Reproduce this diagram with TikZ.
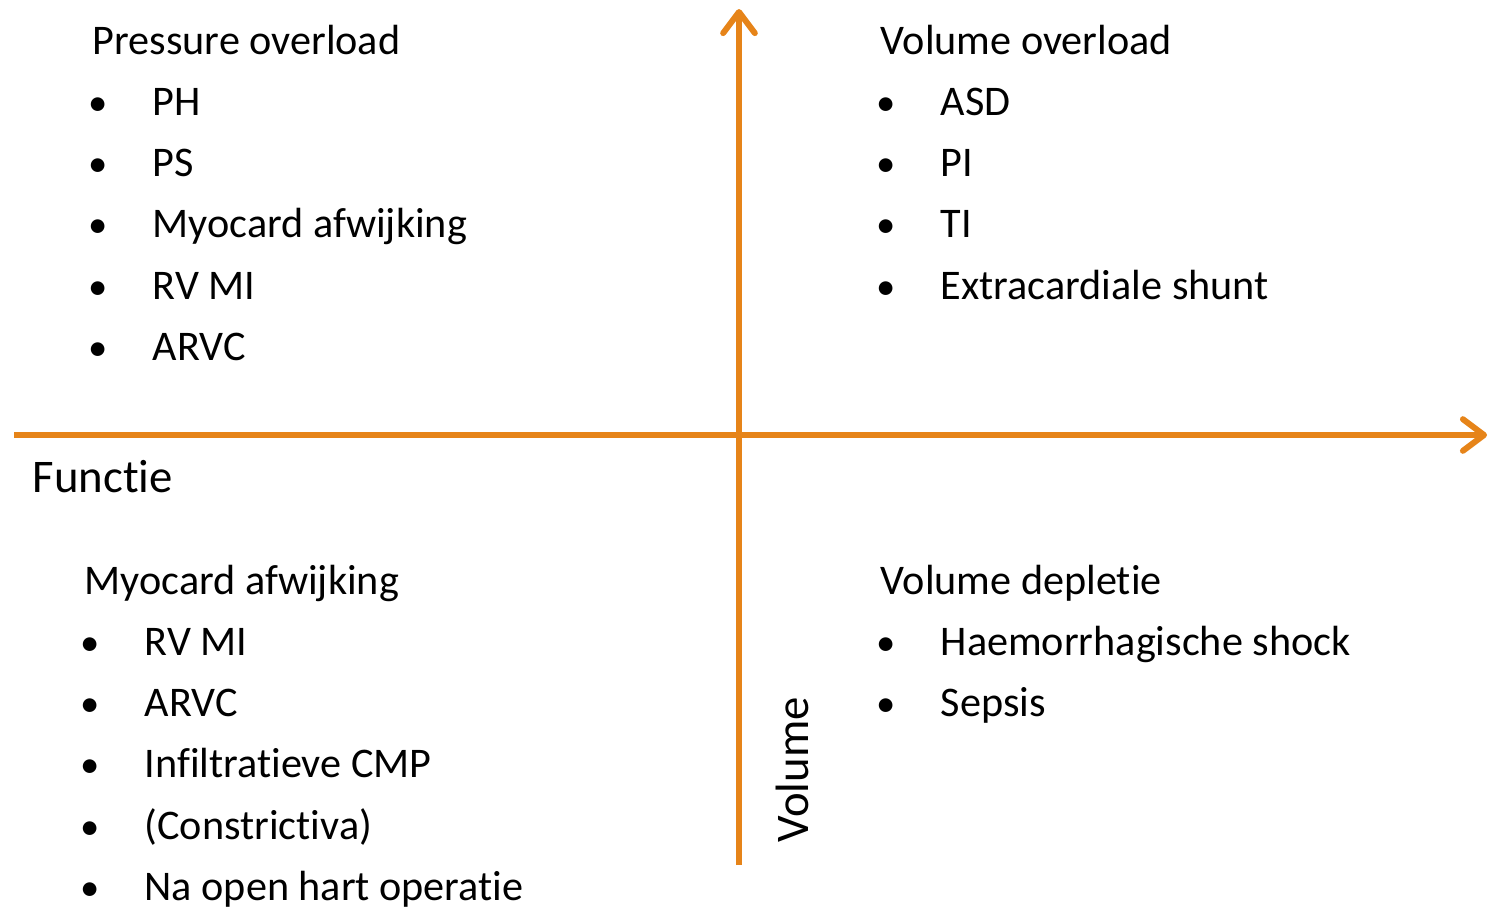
\documentclass[tikz,border=0pt]{standalone}
\usepackage{fontspec}
\setmainfont{Carlito}[Ligatures={NoCommon,NoContextual,NoRequired}]
\usepackage{tikz}
\usetikzlibrary{positioning,arrows.meta}
\definecolor{axisorange}{RGB}{230,132,25}

\begin{document}
\begin{tikzpicture}[x=0.01cm, y=-0.01cm,
    axis/.style={axisorange, line width=1.7pt, -{Straight Barb[length=6pt, width=9pt, round]}},
    txt/.style={anchor=base west, inner sep=0pt, font=\fontsize{12}{14}\selectfont},
    dot/.style={anchor=base west, inner sep=0pt, font=\fontsize{11}{14}\selectfont},
    big/.style={anchor=base west, inner sep=0pt, font=\fontsize{13.3}{16}\selectfont}]
\useasboundingbox (0,0) rectangle (1491,908);
\def\dy{61.3}

% Axes
\coordinate (west) at (14,435);
\coordinate (east) at (1487,435);
\coordinate (south) at (739,865);
\coordinate (north) at (739,9);
\draw[axis] (west) -- (east);
\draw[axis] (south) -- (north);

% Pressure overload
\node[txt] (po) at (92,54) {Pressure overload};
\foreach \t [count=\i] in {PH,PS,Myocard afwijking,RV MI,ARVC} {
    \node[dot] (po-b\i) at (88,54+\i*\dy) {\textbullet};
    \node[txt] (po-t\i) at (152,54+\i*\dy) {\t};
}

% Volume overload
\node[txt] (vo) at (880,54) {Volume overload};
\foreach \t [count=\i] in {ASD,PI,TI,Extracardiale shunt} {
    \node[dot] (vo-b\i) at (876,54+\i*\dy) {\textbullet};
    \node[txt] (vo-t\i) at (940,54+\i*\dy) {\t};
}

% Myocard afwijking
\node[txt] (ma) at (84,594) {Myocard afwijking};
\foreach \t [count=\i] in {RV MI,ARVC,Infiltratieve CMP,(Constrictiva),Na open hart operatie} {
    \node[dot] (ma-b\i) at (80,594+\i*\dy) {\textbullet};
    \node[txt] (ma-t\i) at (144,594+\i*\dy) {\t};
}

% Volume depletie
\node[txt] (vd) at (880,594) {Volume depletie};
\foreach \t [count=\i] in {Haemorrhagische shock,Sepsis} {
    \node[dot] (vd-b\i) at (876,594+\i*\dy) {\textbullet};
    \node[txt] (vd-t\i) at (940,594+\i*\dy) {\t};
}

% Axis labels
\node[big] (functie) at (32,492) {Functie};
\node[big, rotate=90] (volume) at (808,843) {Volume};
\end{tikzpicture}
\end{document}
